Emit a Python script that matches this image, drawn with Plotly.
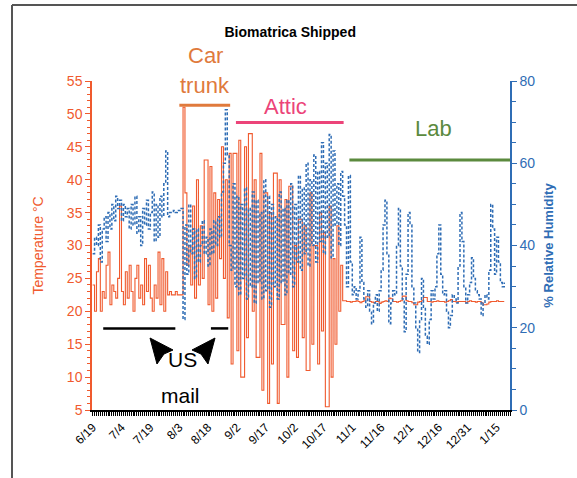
import datetime as dt
import plotly.graph_objects as go

# ---------------- data (one reading per day from 6/19) ----------------
start_date = "2007-06-19"

temperature_c = [
    # 6/19 .. 8/4  (mail / home)
    24, 20, 26, 28, 20, 23, 22, 27, 29, 21, 24, 23, 22, 25, 36, 23, 21, 26, 22, 27,
    23, 20, 25, 27, 22, 24, 21, 28, 23, 27, 22, 20, 24, 22, 29, 21, 28, 20, 26, 22.5,
    23, 22.5, 22.5, 23, 22.5, 22.5, 22.5,
    # 8/5 .. 8/29  (car trunk)
    51, 38, 27, 30, 24, 36, 22, 40, 24, 33, 25, 43, 43, 21, 42, 20, 38, 22, 37, 28,
    45, 25, 40, 19, 44,
    # 8/30 .. 10/26 (attic)
    12, 44, 44, 14, 46, 10, 10, 45, 16, 47, 47, 20, 40, 13, 13, 44, 8, 38, 38, 6,
    35, 12, 41, 41, 6, 40, 18, 18, 37, 10, 39, 39, 14, 30, 13, 34, 34, 16, 33, 11,
    11, 38, 15, 30, 30, 12, 35, 17, 32, 5.5, 5.5, 36, 10, 28, 15, 33, 20, 27,
    # 10/27 .. 1/19 (lab)
    21.6, 21.6, 21.5, 21.5, 21.4, 21.5, 21.5, 21.6, 21.5, 21.3, 21.5, 21.6, 22.2, 22.2, 21.5, 21.4,
    21.3, 21.5, 21.5, 21.2, 21.4, 21.5, 21.6, 21.5, 22.0, 21.9, 21.5, 21.5, 21.4, 21.5,
    21.6, 22.3, 22.3, 21.6, 21.5, 21.5, 21.3, 21.0, 21.0, 21.4, 21.5, 21.6, 22.1, 22.1,
    21.5, 21.5, 21.4, 21.5, 21.5, 21.6, 21.5, 21.5, 21.5, 21.4, 21.5, 21.6, 21.8, 21.5,
    21.5, 21.4, 21.5, 21.5, 21.5, 21.5, 21.3, 21.5, 21.6, 21.5, 21.5, 21.4, 21.5, 21.5,
    21.3, 21.0, 21.0, 21.1, 21.4, 21.5, 21.5, 21.5, 21.6, 21.5, 21.5, 21.5, 21.5,
]

relative_humidity = [
    # 6/19 .. 8/4
    38, 42, 40, 45, 36, 44, 47, 41, 48, 44, 50, 46, 52, 49, 51, 46, 50, 47, 49, 44,
    50, 45, 52, 43, 47, 40, 49, 45, 51, 44, 48, 53, 41, 50, 42, 52, 47, 55, 63, 47,
    48, 48, 48.5, 48, 48.5, 48.5, 49,
    # 8/5 .. 8/29
    22, 45, 33, 50, 38, 44, 32, 44, 36, 40, 46, 38, 42, 35, 44, 38, 46, 40, 47, 42,
    53, 60, 73, 62, 40,
    # 8/30 .. 10/26
    34, 55, 30, 52, 28, 50, 32, 54, 27, 49, 30, 53, 26, 51, 31, 48, 27, 56, 29, 52,
    25, 50, 30, 47, 27, 53, 31, 49, 28, 51, 33, 55, 30, 50, 36, 57, 34, 54, 38, 60,
    35, 56, 40, 62, 36, 58, 41, 65, 38, 60, 42, 67, 37, 63, 45, 55, 40, 58,
    # 10/27 .. 1/19
    52, 45, 30, 57, 36, 28, 30, 27, 29, 42, 31, 27, 25, 29, 24, 21, 26, 28, 24, 29,
    34, 45, 51, 38, 21, 26, 29, 28, 40, 49, 35, 27, 19, 33, 48, 45, 30, 26, 20, 14,
    22, 32, 25, 18, 16, 22, 29, 27, 30, 38, 45, 33, 28, 29, 24, 20, 23, 28, 27, 26,
    35, 48, 41, 30, 26, 28, 31, 37, 32, 29, 28, 27, 23, 26, 28, 27, 34, 50, 44, 33,
    42, 36, 31, 30, 31,
]

tick_labels = ["6/19", "7/4", "7/19", "8/3", "8/18", "9/2", "9/17", "10/2", "10/17",
               "11/1", "11/16", "12/1", "12/16", "12/31", "1/15"]

phase_names = ["Car trunk", "Attic", "Lab"]
phase_start = ["2007-08-03 02:00", "2007-09-01 12:00", "2007-10-30 12:00"]
phase_end = ["2007-08-29 12:00", "2007-10-27 12:00", "2008-01-22"]
phase_level = [51.3, 48.7, 43.0]        # in temperature units
phase_colors = ["#E07A3C", "#EC4479", "#5B8A3E"]

mail_start = ["2007-06-24 12:00", "2007-08-19 12:00"]
mail_end = ["2007-08-01", "2007-08-28 12:00"]
mail_level = 17.4

# ---------------- figure ----------------
t0 = dt.datetime.fromisoformat(start_date)
dates_t = [t0 + dt.timedelta(days=i) for i in range(len(temperature_c))]
dates_h = [t0 + dt.timedelta(days=i) for i in range(len(relative_humidity))]
tick_dates = [t0 + dt.timedelta(days=15 * k) for k in range(len(tick_labels))]

RED = "#F05A2E"
BLUE = "#2F6DB5"

fig = go.Figure()
fig.add_trace(go.Scatter(x=dates_h, y=relative_humidity, yaxis="y2", mode="lines",
                         line=dict(color=BLUE, width=1.5, dash="3px,2px", shape="hv"),
                         name="% RH", showlegend=False))
fig.add_trace(go.Scatter(x=dates_t, y=temperature_c, mode="lines",
                         line=dict(color=RED, width=1.1, shape="hv"),
                         name="Temperature", showlegend=False))

# phase brackets
for s, e, lev, col in zip(phase_start, phase_end, phase_level, phase_colors):
    fig.add_shape(type="line", x0=s, x1=e, y0=lev, y1=lev, xref="x", yref="y",
                  line=dict(color=col, width=3))

for s, e in zip(mail_start, mail_end):
    fig.add_shape(type="line", x0=s, x1=e, y0=mail_level, y1=mail_level, xref="x", yref="y",
                  line=dict(color="black", width=2.5))


def px(x):
    return (x - 92) / 418.0


def py(y):
    return (410 - y) / 329.0


def label(text, x, y, color, size):
    fig.add_annotation(x=px(x), y=py(y), xref="paper", yref="paper", text=text,
                       showarrow=False, xanchor="center", yanchor="middle",
                       font=dict(size=size, color=color, family="Arial"))


label("Car", 205, 55, phase_colors[0], 22)
label("trunk", 205, 86, phase_colors[0], 22)
label("Attic", 285, 107, phase_colors[1], 22)
label("Lab", 433, 128, phase_colors[2], 22)
label("US", 182, 359, "black", 21)
label("mail", 180, 395, "black", 21)

for tri in ([(150, 338), (157, 364), (164, 354), (173, 350)],
            [(215, 338), (208, 364), (201, 354), (192, 350)]):
    path = "M " + " L ".join(f"{px(a):.4f},{py(b):.4f}" for a, b in tri) + " Z"
    fig.add_shape(type="path", path=path, xref="paper", yref="paper",
                  fillcolor="black", line=dict(color="black", width=1))

# outer frame (top and left edges)
fig.add_shape(type="line", xref="paper", yref="paper", x0=px(12), x1=px(580), y0=py(5), y1=py(5),
              line=dict(color="#555555", width=2))
fig.add_shape(type="line", xref="paper", yref="paper", x0=px(12), x1=px(12), y0=py(5), y1=py(480),
              line=dict(color="#555555", width=2))

fig.update_layout(
    width=577, height=478,
    margin=dict(l=92, r=67, t=81, b=68),
    paper_bgcolor="white", plot_bgcolor="white",
    font=dict(family="Arial, Liberation Sans, sans-serif"),
    title=dict(text="<b>Biomatrica Shipped</b>", x=0.503, xanchor="center",
               y=1 - 32 / 478, yanchor="middle",
               font=dict(size=14, color="black")),
    xaxis=dict(
        range=[t0 - dt.timedelta(hours=8), t0 + dt.timedelta(days=217)],
        tickmode="array", tickvals=tick_dates, ticktext=tick_labels,
        tickangle=-45, tickfont=dict(size=12, color="black"),
        showline=True, linecolor="black", linewidth=1.5,
        ticks="outside", ticklen=4, tickcolor="black", tickwidth=1,
        minor=dict(dtick=86400000, ticks="outside", ticklen=4, tickcolor="black", tickwidth=1),
        showgrid=False, zeroline=False,
    ),
    yaxis=dict(
        range=[5, 55], dtick=5, tick0=5,
        showline=True, linecolor=RED, linewidth=1.5,
        ticks="outside", ticklen=5, tickcolor=RED,
        minor=dict(dtick=1, ticks="outside", ticklen=3, tickcolor=RED),
        tickfont=dict(size=14, color=RED),
        title=dict(text="Temperature °C", font=dict(size=14, color=RED), standoff=20),
        showgrid=False, zeroline=False,
    ),
    yaxis2=dict(
        range=[0, 80], dtick=20, overlaying="y", side="right",
        showline=True, linecolor=BLUE, linewidth=1.5,
        ticks="outside", ticklen=5, tickcolor=BLUE,
        minor=dict(dtick=5, ticks="outside", ticklen=4, tickcolor=BLUE),
        tickfont=dict(size=14, color=BLUE),
        title=dict(text="<b>% Relative Humidity</b>", font=dict(size=13, color=BLUE), standoff=10),
        showgrid=False, zeroline=False,
    ),
)

fig.write_html("out.html", config={"displayModeBar": False},
               post_script="document.body.style.margin='0';")
